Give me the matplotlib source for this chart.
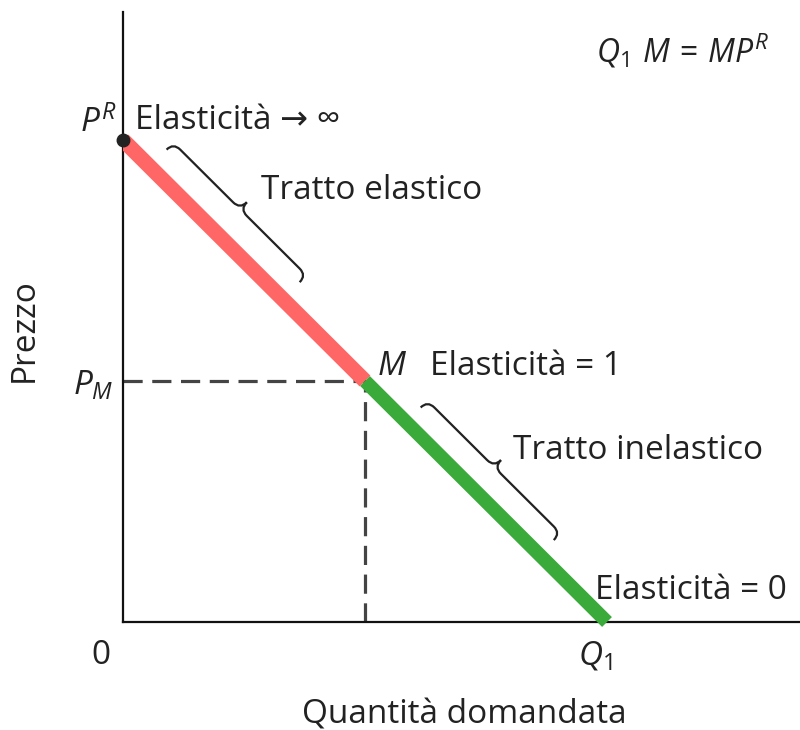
import numpy as np
import matplotlib
matplotlib.use('Agg')
import matplotlib.pyplot as plt
from matplotlib.path import Path
from matplotlib.patches import PathPatch

plt.rcParams['font.family'] = ['Open Sans', 'DejaVu Sans']
plt.rcParams['mathtext.fontset'] = 'custom'
plt.rcParams['mathtext.rm'] = 'Open Sans'
plt.rcParams['mathtext.it'] = 'Open Sans:italic'

# demand curve: P^R -> M -> Q1
qty = [0, 1, 2]
price = [2, 1, 0]
tratto_labels = ['Tratto elastico', 'Tratto inelastico']
elast_labels = ['Elasticità → ∞', 'Elasticità = 1', 'Elasticità = 0']

txt = '#222222'
fig = plt.figure(figsize=(8, 7.3), dpi=100)
ax = fig.add_axes([123 / 800, 108 / 730, 677 / 800, 610 / 730])
ax.set_xlim(0, 677 / 242)
ax.set_ylim(0, 610 / 241)
for s in ['top', 'right']:
    ax.spines[s].set_visible(False)
for s in ['left', 'bottom']:
    ax.spines[s].set_linewidth(1.6)
    ax.spines[s].set_color('#111111')
ax.set_xticks([])
ax.set_yticks([])

# thin underlying line
ax.plot(qty, price, color='#111111', lw=1.5, zorder=2)
ax.plot(qty[:2], price[:2], color='#ff6666', lw=11, solid_capstyle='butt', zorder=3)
ax.plot(qty[1:], price[1:], color='#3aaa3a', lw=10, solid_capstyle='butt', zorder=3,
        clip_on=False)
ax.plot([qty[0]], [price[0]], 'o', color='#222222', ms=9, zorder=4, clip_on=False)

# dashed guides to M
ax.plot([0, qty[1]], [price[1], price[1]], color='#444444', lw=2.3, dashes=(6, 3), zorder=1)
ax.plot([qty[1], qty[1]], [0, price[1]], color='#444444', lw=2.3, dashes=(6, 3), zorder=1)


def brace(p0, p1, h):
    p0 = np.array(p0)
    p1 = np.array(p1)
    d = p1 - p0
    L = np.hypot(*d)
    u = d / L
    v = np.array([u[1], -u[0]])
    if v[0] + v[1] < 0:
        v = -v
    r = 0.04
    loc = [(0, 0), (0, h / 2), (r, h / 2), (L / 2 - r, h / 2), (L / 2, h / 2), (L / 2, h),
           (L / 2, h / 2), (L / 2 + r, h / 2), (L - r, h / 2), (L, h / 2), (L, 0)]
    codes = [Path.MOVETO, Path.CURVE3, Path.CURVE3, Path.LINETO, Path.CURVE3, Path.CURVE3,
             Path.CURVE3, Path.CURVE3, Path.LINETO, Path.CURVE3, Path.CURVE3]
    pts = [p0 + a * u + b * v for a, b in loc]
    ax.add_patch(PathPatch(Path(pts, codes), fill=False, lw=1.6, color='#222222'))


brace((0.18, 1.96), (0.73, 1.41), 0.08)
brace((1.23, 0.89), (1.78, 0.34), 0.08)

fs = 24
ax.text(-0.025, 2.0, '$P^R$', fontsize=fs, color=txt, ha='right', va='bottom')
ax.text(0.05, 2.08, elast_labels[0], fontsize=fs, color=txt, ha='left', va='center')
ax.text(0.57, 1.79, tratto_labels[0], fontsize=fs, color=txt, ha='left', va='center')
ax.text(1.05, 1.06, '$M$', fontsize=fs, color=txt, ha='left', va='center')
ax.text(1.27, 1.06, elast_labels[1], fontsize=fs, color=txt, ha='left', va='center')
ax.text(1.61, 0.71, tratto_labels[1], fontsize=fs, color=txt, ha='left', va='center')
ax.text(1.95, 0.13, elast_labels[2], fontsize=fs, color=txt, ha='left', va='center')
ax.text(2.67, 2.37, '$Q_1\\ M\\,=\\,MP^R$', fontsize=23, color=txt, ha='right', va='center')
ax.text(-0.04, 0.98, '$P_M$', fontsize=fs, color=txt, ha='right', va='center')
ax.text(-0.09, -0.14, '0', fontsize=fs, color=txt, ha='center', va='center')
ax.text(1.95, -0.14, '$Q_1$', fontsize=fs, color=txt, ha='center', va='center')
ax.text(1.41, -0.386, 'Quantità domandata', fontsize=fs, color=txt, ha='center', va='center')
ax.text(-0.41, 1.21, 'Prezzo', fontsize=fs, color=txt, ha='center', va='center', rotation=90)

fig.savefig('out.png', dpi=100)
